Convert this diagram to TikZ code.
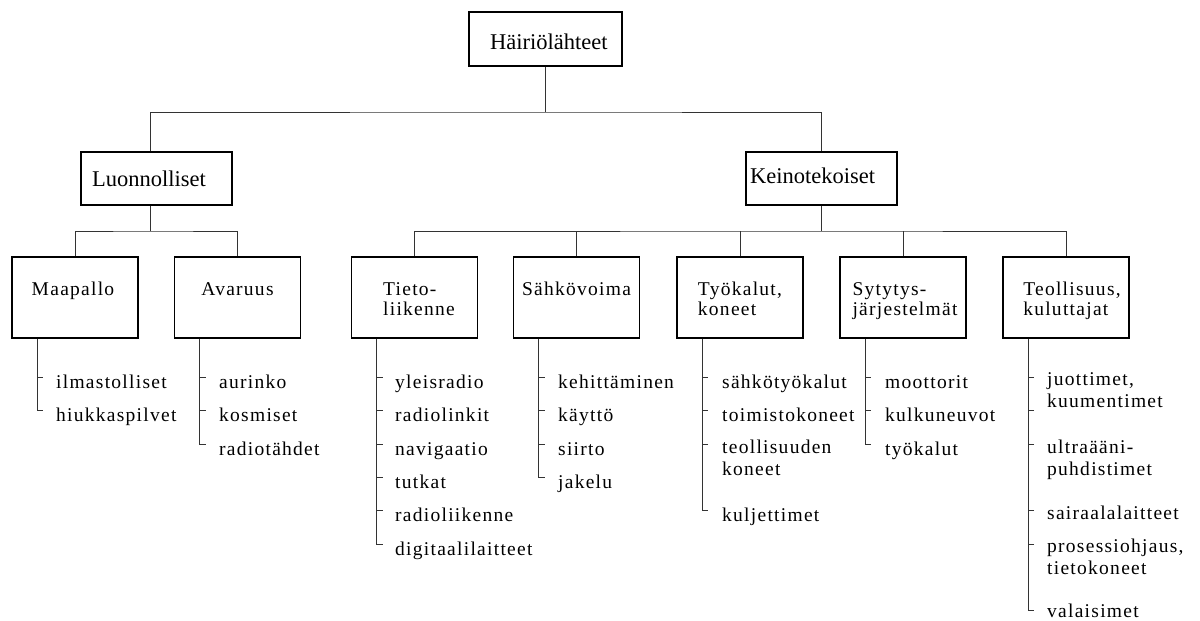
\documentclass[tikz,border=0pt]{standalone}
\usepackage{fontspec}
\setmainfont{Liberation Serif}
\newfontfamily\itemfont{Liberation Serif}[LetterSpace=6.5]
\begin{document}
\begin{tikzpicture}[x=1pt,y=-1pt,
  box/.style={draw=black, line width=1.1pt, inner sep=0pt, minimum width=#1},
  bigbox/.style={box=151, minimum height=53},
  subbox/.style={box=126, minimum height=81},
  conn/.style={draw=black!80, line width=1pt},
  toplabel/.style={inner sep=0pt, anchor=base west, font=\fontsize{22.5}{24}\selectfont},
  boxlabel/.style={inner sep=0pt, anchor=base, align=left, font=\itemfont\fontsize{19.5}{20}\selectfont},
  item/.style={inner sep=0pt, anchor=base west, align=left, font=\itemfont\fontsize{19.5}{21.5}\selectfont}
]
\useasboundingbox (0,0) rectangle (1200,621);

% level 1 and 2
\node[box=153, minimum height=54] (root) at (545.5,39) {};
\node[toplabel] (rootL) at (490,49) {Häiriölähteet};
\node[bigbox] (luo) at (156.5,178.5) {};
\node[toplabel] (luoL) at (92,186) {Luonnolliset};
\node[bigbox] (kei) at (821.5,178.5) {};
\node[toplabel] (keiL) at (750,183) {Keinotekoiset};

% level 3 boxes
\node[subbox] (maa) at (75,297.5) {};
\node[subbox] (ava) at (237.5,297.5) {};
\node[subbox] (tie) at (414.5,297.5) {};
\node[subbox] (sah) at (576.5,297.5) {};
\node[subbox] (tyo) at (740,297.5) {};
\node[subbox] (syt) at (903,297.5) {};
\node[subbox] (teo) at (1066,297.5) {};

% (base of a two-line label is its last line)
\node[boxlabel] (maaL) at (73,295) {Maapallo};
\node[boxlabel] (avaL) at (237.5,295) {Avaruus};
\node[boxlabel] (tieL) at (419,315) {Tieto-\\liikenne};
\node[boxlabel] (sahL) at (576.5,295) {Sähkövoima};
\node[boxlabel] (tyoL) at (740,315) {Työkalut,\\koneet};
\node[boxlabel] (sytL) at (905,315) {Sytytys-\\järjestelmät};
\node[boxlabel] (teoL) at (1072,315) {Teollisuus,\\kuluttajat};

% junctions
\coordinate (j1) at (545.5,112);
\coordinate (j2) at (150,231);
\coordinate (j3) at (821.5,231);

\draw[conn] (root.south) -- (j1);
\draw[conn] ([xshift=-6.5pt]luo.north) |- (j1) -| (kei.north);
\draw[conn] ([xshift=-6.5pt]luo.south) -- (j2);
\draw[conn] (maa.north) |- (j2) -| (ava.north);
\draw[conn] (kei.south) -- (j3);
\draw[conn] (tie.north) |- (j3) -| (teo.north);
\draw[conn] (sah.north) -- (sah.north |- j3);
\draw[conn] (tyo.north) -- (tyo.north |- j3);
\draw[conn] (syt.north) -- (syt.north |- j3);

% Maapallo
\node[item] (maa1) at (56,388) {ilmastolliset};
\node[item] (maa2) at (56,421) {hiukkaspilvet};
\draw[conn] ([xshift=-38pt]maa.south) |- ([xshift=-13pt,yshift=11pt]maa2.base west);
\draw[conn] ([xshift=-19pt,yshift=11pt]maa1.base west) -- ++(6,0);

% Avaruus
\node[item] (ava1) at (219,388) {aurinko};
\node[item] (ava2) at (219,421) {kosmiset};
\node[item] (ava3) at (219,455) {radiotähdet};
\draw[conn] ([xshift=-38pt]ava.south) |- ([xshift=-13pt,yshift=11pt]ava3.base west);
\foreach \i in {1,2}
  \draw[conn] ([xshift=-19pt,yshift=11pt]ava\i.base west) -- ++(6,0);

% Tietoliikenne
\node[item] (tie1) at (395,388) {yleisradio};
\node[item] (tie2) at (395,421) {radiolinkit};
\node[item] (tie3) at (395,455) {navigaatio};
\node[item] (tie4) at (395,488) {tutkat};
\node[item] (tie5) at (395,521) {radioliikenne};
\node[item] (tie6) at (395,555) {digitaalilaitteet};
\draw[conn] ([xshift=-38pt]tie.south) |- ([xshift=-12.5pt,yshift=11pt]tie6.base west);
\foreach \i in {1,...,5}
  \draw[conn] ([xshift=-18.5pt,yshift=11pt]tie\i.base west) -- ++(6,0);

% Sähkövoima
\node[item] (sah1) at (558,388) {kehittäminen};
\node[item] (sah2) at (558,421) {käyttö};
\node[item] (sah3) at (558,455) {siirto};
\node[item] (sah4) at (558,488) {jakelu};
\draw[conn] ([xshift=-38pt]sah.south) |- ([xshift=-13.5pt,yshift=11pt]sah4.base west);
\foreach \i in {1,2,3}
  \draw[conn] ([xshift=-19.5pt,yshift=11pt]sah\i.base west) -- ++(6,0);

% Työkalut, koneet
\node[item] (tyo1) at (722,388) {sähkötyökalut};
\node[item] (tyo2) at (722,421) {toimistokoneet};
\node[item] (tyo3) at (722,475) {teollisuuden\\koneet};
\node[item] (tyo4) at (722,521) {kuljettimet};
\coordinate (tyoT3) at (708,444);
\draw[conn] ([xshift=-38pt]tyo.south) |- ([xshift=-14pt,yshift=11pt]tyo4.base west);
\draw[conn] ([xshift=-20pt,yshift=11pt]tyo1.base west) -- ++(6,0);
\draw[conn] ([xshift=-20pt,yshift=11pt]tyo2.base west) -- ++(6,0);
\draw[conn] (tyoT3) -- ++(-6,0);

% Sytytysjärjestelmät
\node[item] (syt1) at (885,388) {moottorit};
\node[item] (syt2) at (885,421) {kulkuneuvot};
\node[item] (syt3) at (885,455) {työkalut};
\draw[conn] ([xshift=-38pt]syt.south) |- ([xshift=-14pt,yshift=11pt]syt3.base west);
\foreach \i in {1,2}
  \draw[conn] ([xshift=-20pt,yshift=11pt]syt\i.base west) -- ++(6,0);

% Teollisuus, kuluttajat
\node[item] (teo1) at (1047,407) {juottimet,\\kuumentimet};
\node[item] (teo2) at (1047,475) {ultraääni-\\puhdistimet};
\node[item] (teo3) at (1047,519) {sairaalalaitteet};
\node[item] (teo4) at (1047,574) {prosessiohjaus,\\tietokoneet};
\node[item] (teo5) at (1047,617) {valaisimet};
\coordinate (teoT1) at (1034,377);
\coordinate (teoT2) at (1034,410);
\coordinate (teoT3) at (1034,444);
\coordinate (teoT4) at (1034,510);
\coordinate (teoT5) at (1034,544);
\coordinate (teoT6) at (1034,610);
\draw[conn] ([xshift=-38pt]teo.south) |- (teoT6);
\foreach \i in {1,...,5}
  \draw[conn] (teoT\i) -- ++(-6,0);
\end{tikzpicture}
\end{document}
